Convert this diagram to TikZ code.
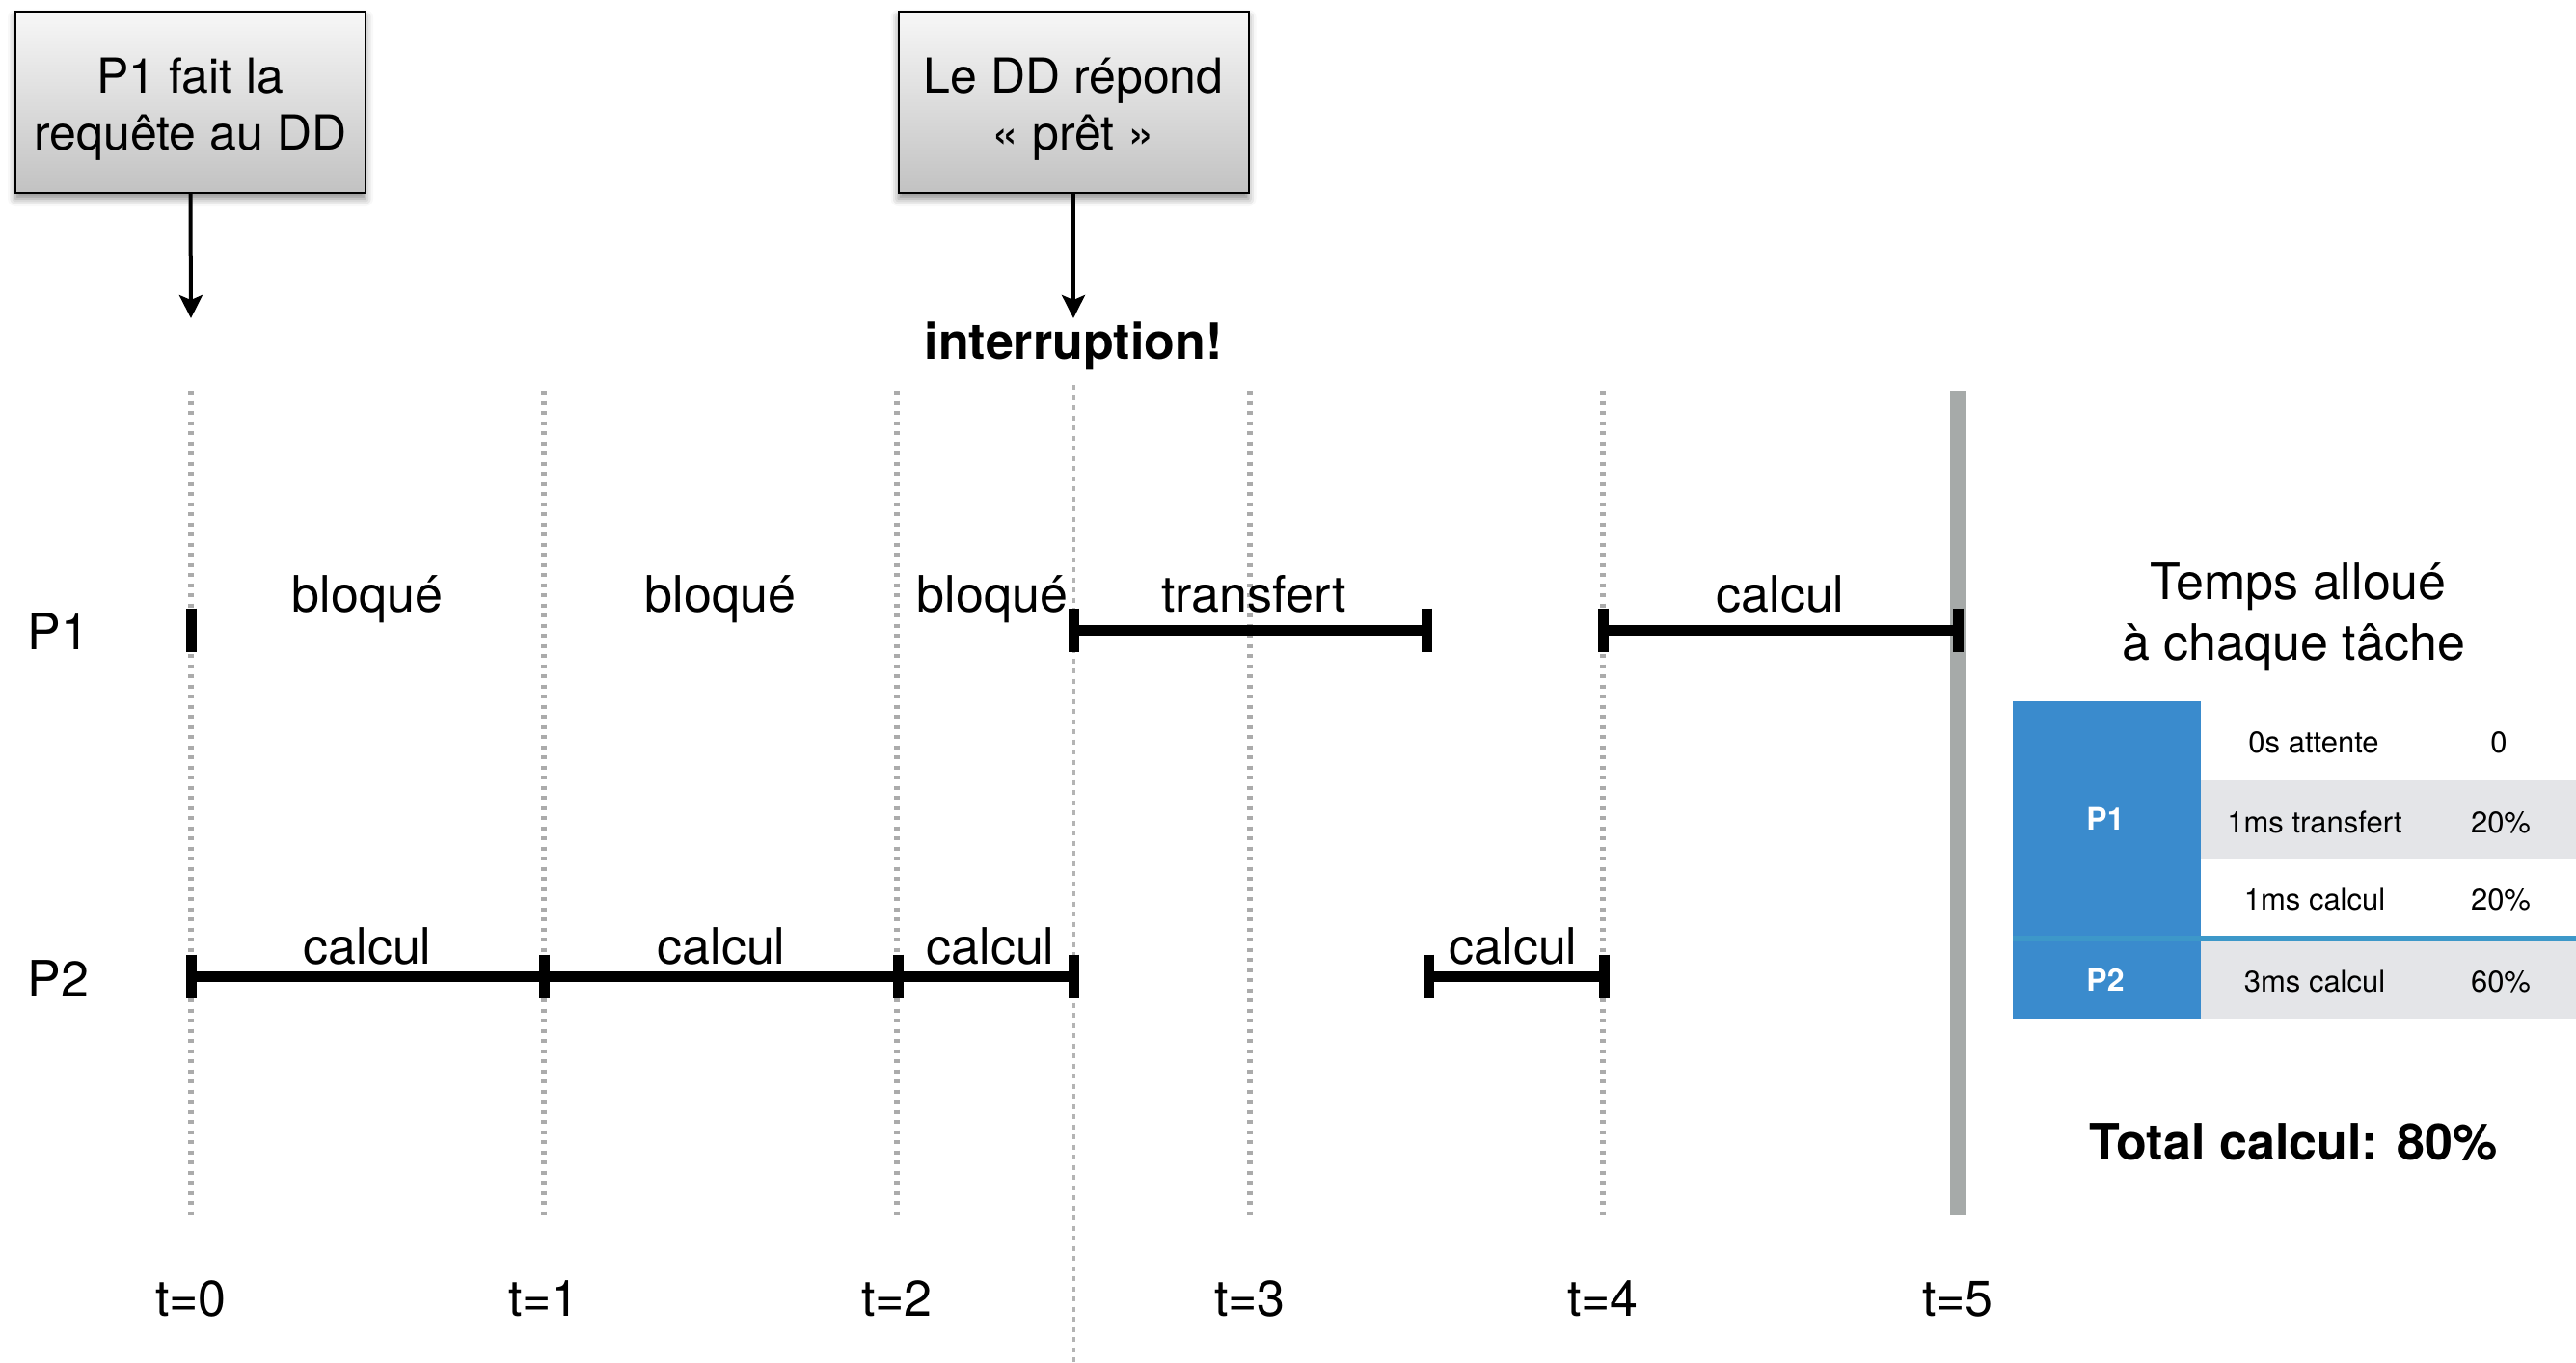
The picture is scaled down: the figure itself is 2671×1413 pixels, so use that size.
\documentclass[tikz,border=0pt]{standalone}
\usepackage{fontspec}
\setmainfont{TeX Gyre Heros}
\usetikzlibrary{arrows.meta,shadows.blur}
\definecolor{tgray}{HTML}{ABABAB}
\definecolor{igray}{HTML}{B4B4B4}
\definecolor{sgray}{HTML}{A6AAA9}
\definecolor{boxtop}{HTML}{F7F7F7}
\definecolor{boxbot}{HTML}{C2C2C2}
\definecolor{tblue}{HTML}{3A8BCD}
\definecolor{sepblue}{HTML}{3D98C9}
\definecolor{rowgray}{HTML}{E4E5E8}
\newcommand\mytick[1]{\draw[tickst] ([yshift=11.25pt]#1) -- ([yshift=-11.25pt]#1);}
\newcommand\topstrut{\rule{0pt}{25pt}}
\begin{document}
\begin{tikzpicture}[x=0.5pt,y=-0.5pt,
  lbl/.style={font=\fontsize{26}{31}\selectfont, inner sep=0pt, anchor=base},
  boldlbl/.style={font=\fontsize{26}{31}\selectfont\bfseries, inner sep=0pt, anchor=base},
  cell/.style={font=\fontsize{15.5}{18}\selectfont, inner sep=0pt, anchor=base},
  pcell/.style={font=\fontsize{16}{19}\selectfont\bfseries, text=white, inner sep=0pt, anchor=base},
  tline/.style={draw=tgray, line width=2.75pt, dash pattern=on 2pt off 3.25pt},
  iline/.style={draw=igray, line width=1.5pt, dash pattern=on 2.5pt off 2.75pt},
  barst/.style={line width=5.5pt},
  tickst/.style={line width=5.5pt},
  callout/.style={draw=black, line width=1pt, top color=boxtop, bottom color=boxbot,
    minimum width=181.5pt, minimum height=94pt, inner sep=0pt, align=center,
    font=\fontsize{25}{29.5}\selectfont,
    blur shadow={shadow xshift=0pt, shadow yshift=-3pt, shadow blur radius=4pt, shadow opacity=45}},
  arr/.style={line width=2pt, -{Stealth[length=12pt,width=12pt,inset=2.5pt]}}
]
\useasboundingbox (0,0) rectangle (2671,1413);

% time coordinates
\foreach \n/\x in {0/198,1/564,2/930,3/1296,4/1662}{
  \coordinate (top\n) at (\x,405);
  \coordinate (bot\n) at (\x,1260);
  \draw[tline] (top\n) -- (bot\n);
}
\coordinate (topI) at (1113,399);
\coordinate (botI) at (1113,1413);
\draw[iline] (topI) -- (botI);
\coordinate (top5) at (2030,405);
\coordinate (bot5) at (2030,1260);
\draw[draw=sgray, line width=8pt] (top5) -- (bot5);

% callout boxes
\node[callout] (req) at (197.5,106) {\topstrut P1 fait la\\requête au DD};
\node[callout] (rep) at (1113,106) {\topstrut Le DD répond\\« prêt »};
\coordinate (reqend) at (198,330);
\coordinate (repend) at (1113,330);
\draw[arr] (req.south) -- (reqend);
\draw[arr] (rep.south) -- (repend);
\node[boldlbl] (intr) at (1113,372) {interruption!};

% row labels
\node[lbl, anchor=base west] (p1) at (28,673) {P1};
\node[lbl, anchor=base west] (p2) at (28,1033) {P2};

% P1 row
\coordinate (a0) at (198,653);
\coordinate (a25) at (1113,653);
\coordinate (a35) at (1479,653);
\coordinate (a4) at (1662,653);
\coordinate (a5) at (2030,653);
\mytick{a0}
\draw[barst] (a25) -- (a35);
\mytick{a25} \mytick{a35}
\draw[barst] (a4) -- (a5);
\mytick{a4} \mytick{a5}
\node[lbl] (bl1) at (381,634) {bloqué};
\node[lbl] (bl2) at (747,634) {bloqué};
\node[lbl] (bl3) at (1029,634) {bloqué};
\node[lbl] (tr) at (1300,634) {transfert};
\node[lbl] (ca1) at (1846,634) {calcul};

% P2 row
\coordinate (b0) at (198,1012);
\coordinate (b1) at (564,1012);
\coordinate (b2) at (931,1012);
\coordinate (b25) at (1113,1012);
\coordinate (b35) at (1481,1012);
\coordinate (b4) at (1663,1012);
\draw[barst] (b0) -- (b1) -- (b2) -- (b25);
\mytick{b0} \mytick{b1} \mytick{b2} \mytick{b25}
\draw[barst] (b35) -- (b4);
\mytick{b35} \mytick{b4}
\node[lbl] (c1) at (381,999) {calcul};
\node[lbl] (c2) at (748,999) {calcul};
\node[lbl] (c3) at (1027,999) {calcul};
\node[lbl] (c4) at (1569,999) {calcul};

% time labels
\foreach \n/\x in {0/198,1/564,2/930,3/1296,4/1662,5/2030}{
  \node[lbl] (t\n) at (\x,1364) {t=\n};
}

% table
\node[lbl] (title1) at (2383,621) {Temps alloué};
\node[lbl] (title2) at (2378,684) {à chaque tâche};
\fill[rowgray] (2282,809) rectangle (2671,891);
\fill[rowgray] (2282,976) rectangle (2671,1056);
\fill[tblue] (2087,727) rectangle (2282,1056);
\draw[sepblue, line width=3pt] (2087,973) -- (2671,973);
\node[pcell] (tp1) at (2183,860) {P1};
\node[pcell] (tp2) at (2183,1027) {P2};
\node[cell] (r1a) at (2399,780) {0s attente};
\node[cell] (r1b) at (2591,780) {0};
\node[cell] (r2a) at (2400,863) {1ms transfert};
\node[cell] (r2b) at (2593,863) {20\%};
\node[cell] (r3a) at (2400,943) {1ms calcul};
\node[cell] (r3b) at (2593,943) {20\%};
\node[cell] (r4a) at (2400,1028) {3ms calcul};
\node[cell] (r4b) at (2593,1028) {60\%};
\node[boldlbl] (total) at (2378,1202) {Total calcul: 80\%};
\end{tikzpicture}
\end{document}
